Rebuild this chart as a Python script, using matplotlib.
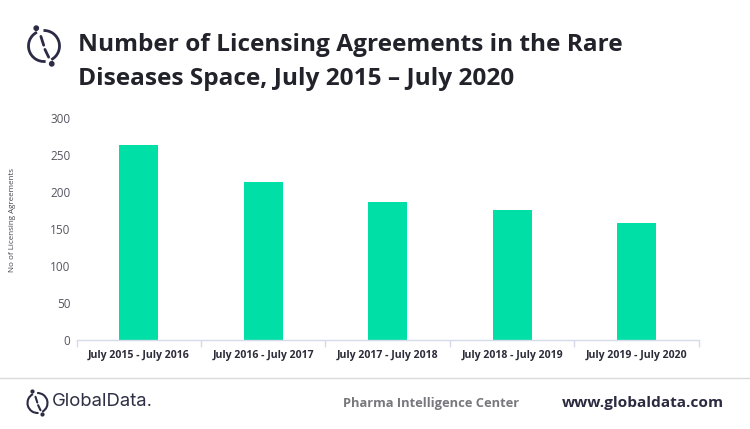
import matplotlib
matplotlib.use('Agg')
import matplotlib.pyplot as plt
from matplotlib.patches import Arc, Circle
from matplotlib.lines import Line2D

periods = ['July 2015 - July 2016', 'July 2016 - July 2017', 'July 2017 - July 2018',
           'July 2018 - July 2019', 'July 2019 - July 2020']
agreements = [264, 214, 187, 176, 158]
yticks = [0, 50, 100, 150, 200, 250, 300]
title_lines = ['Number of Licensing Agreements in the Rare', 'Diseases Space, July 2015 – July 2020']
ylabel = 'No of Licensing Agreements'

W, H = 750, 429
plt.rcParams['font.family'] = ['Open Sans', 'DejaVu Sans']
fig = plt.figure(figsize=(W/100, H/100), dpi=100, facecolor='white')
ax = fig.add_axes([77.5/W, 1-340/H, (699-77.5)/W, 222/H])
ax.bar(range(5), agreements, width=0.313, color='#00DFA5')
ax.set_xlim(-0.49, 4.5)
ax.set_ylim(0, 300)
ax.set_yticks(yticks)
ax.set_xticks([-0.49, 0.5, 1.5, 2.5, 3.5, 4.5])
ax.set_xticklabels([])
ax.set_xticks(range(5), minor=True)
ax.set_xticklabels(periods, minor=True, fontsize=7.6, fontweight='bold', color='#2b2b3a')
ax.tick_params(axis='x', which='major', length=5, color='#d5dbe8', width=1)
ax.tick_params(axis='x', which='minor', length=0, pad=7.5)
ax.tick_params(axis='y', length=0, labelsize=8.5, labelcolor='#555560', pad=5)
for s in ['top', 'right', 'left']:
    ax.spines[s].set_visible(False)
ax.spines['bottom'].set_color('#d5dbe8')
ax.spines['bottom'].set_linewidth(1)
fig.text(13/W, 1-220.5/H, ylabel, rotation=90, fontsize=5.8, color='#444450', ha='center', va='center')

fig.text(78/W, 1-51/H, title_lines[0], fontsize=17.55, fontweight='bold', color='#22222a', ha='left', va='baseline')
fig.text(78/W, 1-85/H, title_lines[1], fontsize=17.55, fontweight='bold', color='#22222a', ha='left', va='baseline')

# footer
fig.add_artist(Line2D([0, 1], [1-377.5/H]*2, color='#d9d9de', lw=1))
fig.text(52/W, 1-402/H, 'GlobalData.', fontsize=13.3, color='#2e2e44', family='Inter', ha='left', va='center')
fig.text(343/W, 1-403/H, 'Pharma Intelligence Center', fontsize=9.3, fontweight='bold', color='#77777d', ha='left', va='center')
fig.text(562/W, 1-402.5/H, 'www.globaldata.com', fontsize=11.1, fontweight='bold', color='#2a2a40', ha='left', va='center')

# logos, drawn in an overlay axes using pixel coordinates
ov = fig.add_axes([0, 0, 1, 1], facecolor='none')
ov.set_xlim(0, W); ov.set_ylim(H, 0); ov.axis('off')
def logo(cx, cy, r, lw, c='#2b2b45'):
    ov.add_patch(Arc((cx, cy), 2*r, 2*r, theta1=-92, theta2=62, color=c, lw=lw))
    ov.add_patch(Arc((cx, cy), 2*r, 2*r, theta1=84, theta2=243, color=c, lw=lw))
    ov.plot([cx-0.2*r, cx-0.02*r], [cy-0.62*r, cy-0.05*r], color=c, lw=lw, solid_capstyle='round')
    ov.plot([cx+0.06*r, cx+0.3*r], [cy+0.22*r, cy+0.72*r], color=c, lw=lw, solid_capstyle='round')
    ov.add_patch(Circle((cx-0.5*r, cy-1.15*r), 0.14*r, color=c))
    ov.add_patch(Circle((cx+0.5*r, cy+1.15*r), 0.14*r, color=c))
logo(44, 46, 15.5, 2.0)
logo(37.5, 403, 10, 1.5)

fig.savefig('out.png', dpi=100)
